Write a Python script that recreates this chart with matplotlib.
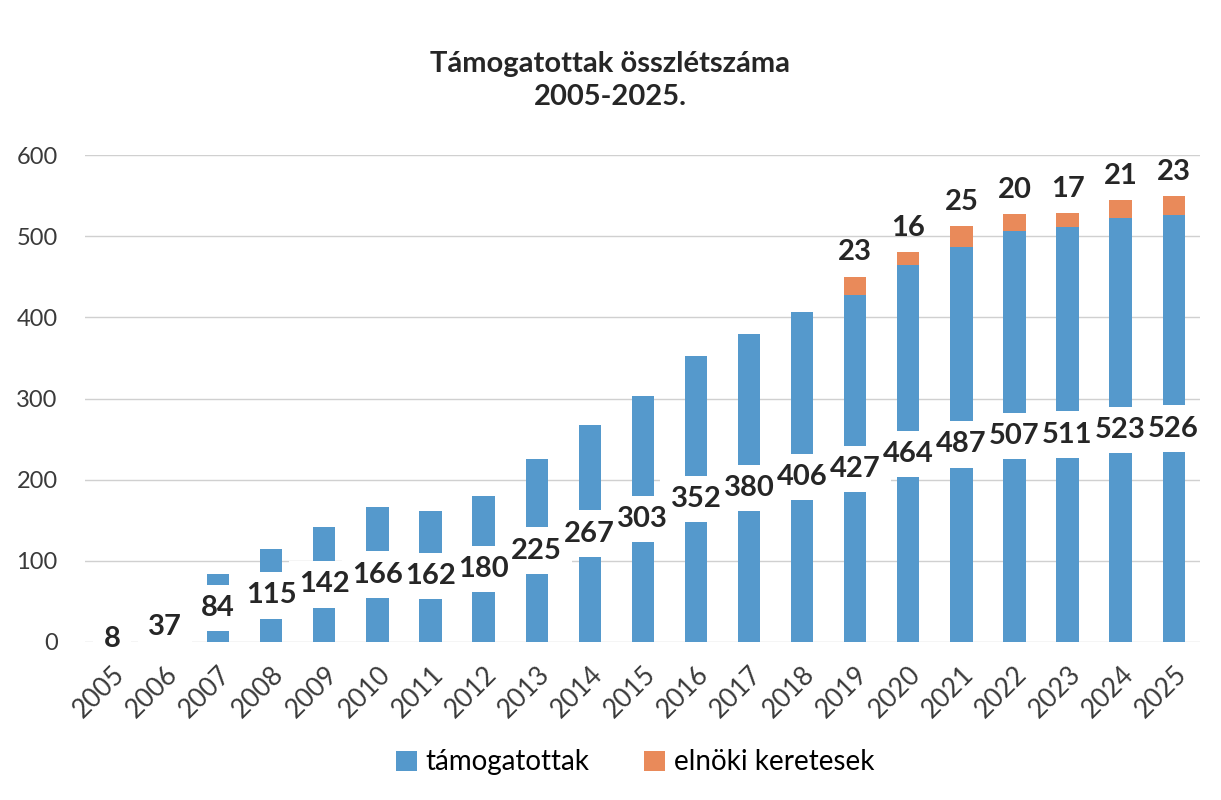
import matplotlib.pyplot as plt
import numpy as np

# --------------------------------------------------------------------------- #
#  Data
# --------------------------------------------------------------------------- #
YEARS = [str(y) for y in range(2005, 2026)]
TAMOGATOTTAK = [8, 37, 84, 115, 142, 166, 162, 180, 225, 267, 303,
                352, 380, 406, 427, 464, 487, 507, 511, 523, 526]
ELNOKI = [0, 0, 0, 0, 0, 0, 0, 0, 0, 0, 0,
          0, 0, 0, 23, 16, 25, 20, 17, 21, 23]

BLUE = "#5599CC"
ORANGE = "#E98A5A"
TEXT = "#262626"

plt.rcParams["font.family"] = ["Lato", "DejaVu Sans"]

fig = plt.figure(figsize=(12.21, 8), dpi=100)
ax = fig.add_axes([0.07, 0.1975, 0.913, 0.6087])

x = np.arange(len(YEARS))
blue = np.array(TAMOGATOTTAK)
orange = np.array(ELNOKI)

ax.bar(x, blue, width=0.42, color=BLUE, label="támogatottak", zorder=2)
ax.bar(x, orange, width=0.42, bottom=blue, color=ORANGE,
       label="elnöki keretesek", zorder=2)

# blue labels sit in the middle of the bar on a white box;
# boxes first, text on top so neighbouring boxes don't hide digits
for xi, v in zip(x, blue):
    ax.text(xi, v / 2, str(v), ha="center", va="center", fontsize=21,
            fontweight="bold", color="none", zorder=3,
            bbox=dict(boxstyle="square,pad=0.35", fc="white", ec="none"))
    ax.text(xi, v / 2, str(v), ha="center", va="center", fontsize=21,
            fontweight="bold", color=TEXT, zorder=4)

# orange labels above the stack
for xi, b, o in zip(x, blue, orange):
    if o > 0:
        ax.text(xi, b + o + 14, str(o), ha="center", va="bottom", fontsize=21,
                fontweight="bold", color=TEXT, zorder=4)

ax.set_xlim(-0.5, len(YEARS) - 0.5)
ax.set_ylim(0, 600)
ax.set_yticks(range(0, 601, 100))
ax.set_xticks(x)
ax.set_xticklabels(YEARS, rotation=45, ha="right", rotation_mode="anchor")
ax.tick_params(axis="both", length=0, colors="#3a3a3a")
ax.tick_params(axis="y", pad=20, labelsize=17)
ax.tick_params(axis="x", pad=14, labelsize=19)
ax.grid(axis="y", color="#d0d0d0", linewidth=1, zorder=0)
for s in ax.spines.values():
    s.set_visible(False)

fig.text(0.5, 0.899, "Támogatottak összlétszáma\n2005-2025.", ha="center",
         va="center", fontsize=21, fontweight="bold", color=TEXT,
         linespacing=1.35)

fig.legend(loc="center", bbox_to_anchor=(0.52, 0.047), ncol=2,
           frameon=False, fontsize=20, handlelength=0.75, handleheight=0.75,
           handletextpad=0.3, columnspacing=2.0)

fig.savefig("out.png", dpi=100)
